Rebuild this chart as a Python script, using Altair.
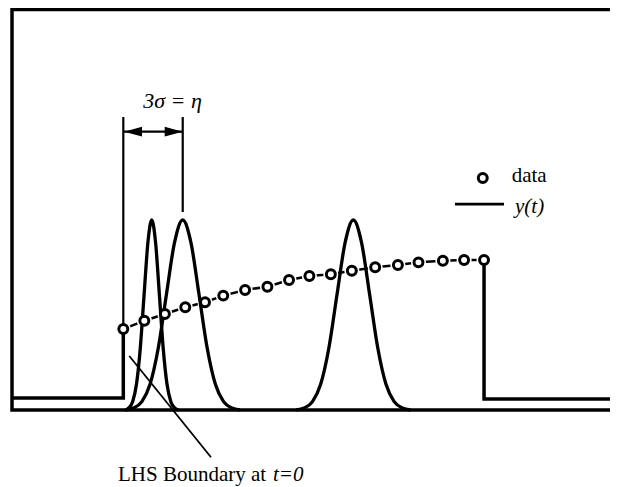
import altair as alt
import pandas as pd

# ---- data (t in sample-spacing units, y relative to kernel peak) ----
data_t = [0.0, 0.99, 1.96, 2.92, 3.85, 4.71, 5.74, 6.79, 7.81, 8.77,
          9.78, 10.77, 11.87, 12.94, 13.91, 15.06, 16.06, 17.0]
data_y = [0.426, 0.470, 0.505, 0.541, 0.567, 0.602, 0.632, 0.649, 0.684, 0.705,
          0.714, 0.733, 0.751, 0.763, 0.777, 0.786, 0.789, 0.789]

# kernels: centre, width (sigma), read shape (offsets in sigma, relative heights)
kernel_centers = [1.34, 2.80, 10.84]
kernel_sigmas = [0.36, 0.77, 0.77]
kernel_offsets = [-3.5, -3.0, -2.5, -2.0, -1.5, -1.0, -0.5, 0.0, 0.5, 1.0, 1.5, 2.0, 2.5, 3.0, 3.5]
kernel_heights = [0.0, 0.011, 0.044, 0.135, 0.325, 0.607, 0.882, 1.0, 0.882, 0.607, 0.325, 0.135, 0.044, 0.011, 0.0]

# step levels of y(t) outside the data window
base_left = 0.063
base_right = 0.058

# frame / annotation geometry (in data units)
X_LEFT, X_RIGHT = -5.245, 22.936
Y_TOP = 2.108
ANN_TOP = 1.542
ARROW_Y = 1.465

X_DOM = [-5.434, 22.936]
Y_DOM = [-0.4053, 2.1158]
xs = alt.Scale(domain=X_DOM, nice=False, zero=False)
ys = alt.Scale(domain=Y_DOM, nice=False, zero=False)


def paths(segs):
    rows = []
    for si, seg in enumerate(segs):
        for oi, (t, y) in enumerate(seg):
            rows.append({"t": t, "y": y, "seg": si, "ord": oi})
    return pd.DataFrame(rows)


def line_layer(segs, width, interp="linear"):
    return alt.Chart(paths(segs)).mark_line(
        color="black", strokeWidth=width, interpolate=interp,
        strokeJoin="miter", strokeCap="butt", clip=False
    ).encode(
        x=alt.X("t:Q", scale=xs, axis=None),
        y=alt.Y("y:Q", scale=ys, axis=None),
        detail="seg:N",
        order="ord:Q",
    )


def text_layer(t, y, txt, size=21, italic=False, align="left"):
    kw = dict(font="Liberation Serif", fontSize=size, align=align,
              baseline="alphabetic", color="black")
    if italic:
        kw["fontStyle"] = "italic"
    return alt.Chart(pd.DataFrame({"t": [t], "y": [y], "s": [txt]})).mark_text(**kw).encode(
        x=alt.X("t:Q", scale=xs, axis=None),
        y=alt.Y("y:Q", scale=ys, axis=None),
        text="s:N",
    )


points_df = pd.DataFrame({"t": data_t, "y": data_y})

# data connecting line
data_line = line_layer([list(zip(data_t, data_y))], 2.5)

halo = alt.Chart(points_df).mark_point(
    shape="circle", filled=True, color="white", size=230, opacity=1
).encode(x=alt.X("t:Q", scale=xs, axis=None), y=alt.Y("y:Q", scale=ys, axis=None))

frame = line_layer([[(X_RIGHT, Y_TOP), (X_LEFT, Y_TOP), (X_LEFT, 0.0), (X_RIGHT, 0.0)]], 3.5)

steps = line_layer([
    [(X_LEFT, base_left), (data_t[0], base_left), (data_t[0], data_y[0])],
    [(data_t[-1], data_y[-1]), (data_t[-1], base_right), (X_RIGHT, base_right)],
], 3.5)

kernels = line_layer([
    [(c + o * s, h) for o, h in zip(kernel_offsets, kernel_heights)]
    for c, s in zip(kernel_centers, kernel_sigmas)
], 3.3, interp="monotone")

ann_lines = line_layer([
    [(0.0, ANN_TOP), (0.0, data_y[0])],
    [(2.80, ANN_TOP), (2.80, 1.042)],
    [(0.0, ARROW_Y), (2.80, ARROW_Y)],
], 2.2)

pointer = line_layer([[(0.283, 0.284), (4.133, -0.249)]], 1.8)

legend_line = line_layer([[(15.63, 1.084), (17.94, 1.084)]], 2.8)

heads = alt.Chart(pd.DataFrame({
    "t": [0.458, 2.375],
    "y": [ARROW_Y, ARROW_Y],
    "shape": ["M -1 0 L 1 -0.55 L 1 0.55 Z", "M 1 0 L -1 -0.55 L -1 0.55 Z"],
})).mark_point(filled=True, color="black", size=324, opacity=1).encode(
    x=alt.X("t:Q", scale=xs, axis=None),
    y=alt.Y("y:Q", scale=ys, axis=None),
    shape=alt.Shape("shape:N", scale=None, legend=None),
)

circles_df = pd.concat([points_df, pd.DataFrame({"t": [16.94], "y": [1.221]})], ignore_index=True)
circles = alt.Chart(circles_df).mark_point(
    shape="circle", filled=False, fill="white", fillOpacity=1, stroke="black",
    strokeWidth=3, size=80, opacity=1
).encode(x=alt.X("t:Q", scale=xs, axis=None), y=alt.Y("y:Q", scale=ys, axis=None))

texts = [
    text_layer(2.32, 1.588, "3σ = η", size=22, italic=True, align="center"),
    text_layer(18.30, 1.198, "data"),
    text_layer(18.46, 1.035, "y(t)", italic=True),
    text_layer(-0.25, -0.372, "LHS Boundary at "),
    text_layer(7.05, -0.372, "t=0", italic=True),
]

chart = alt.layer(
    data_line, halo, frame, steps, kernels, ann_lines, pointer, legend_line,
    heads, circles, *texts
).properties(
    width=602, height=479,
    autosize=alt.AutoSizeParams(type="none"),
    padding=0,
    background="white",
).configure_view(stroke=None)

chart.save("out.html", embed_options={"renderer": "svg", "actions": False})
